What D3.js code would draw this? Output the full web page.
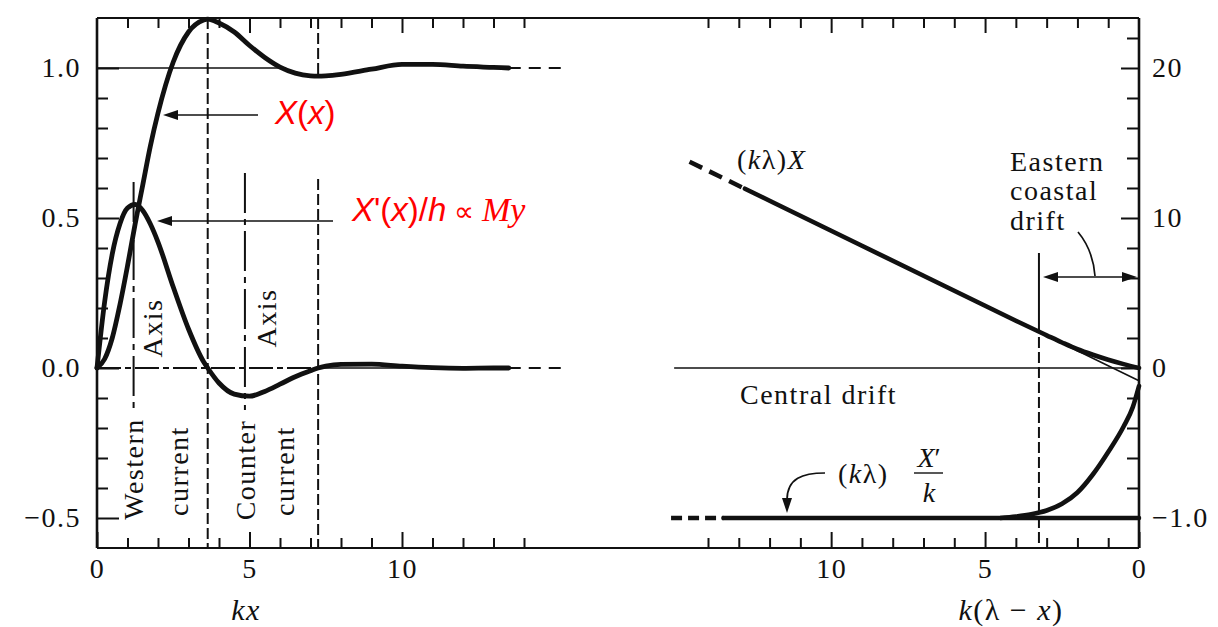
<!DOCTYPE html>
<html><head><meta charset="utf-8">
<script src="https://cdn.jsdelivr.net/npm/d3@7"></script>
<style>
body{margin:0;background:#fff;}
svg{display:block;background:#fff;}
text{font-family:"Liberation Serif","Times New Roman",serif;fill:#111;}
</style></head><body>
<svg id="c" width="1218" height="627"></svg>
<script>
// ---------- data ----------
// Left panel: western boundary solution vs kx
const kxGrid = [0,0.25,0.5,0.75,1,1.25,1.5,1.75,2,2.5,3,3.5,3.63,4,4.5,5,5.5,6,6.5,7,7.25,7.5,8,9,10,11,12,13,13.5];
const Xvals  = [0,0.03,0.10,0.21,0.34,0.48,0.61,0.74,0.85,1.02,1.12,1.16,1.163,1.15,1.12,1.075,1.035,1.003,0.983,0.974,0.973,0.974,0.979,0.996,1.012,1.012,1.006,1.002,1.0];
const XpVals = [0,0.22,0.38,0.48,0.533,0.545,0.525,0.48,0.42,0.27,0.13,0.02,0,-0.05,-0.087,-0.094,-0.078,-0.054,-0.029,-0.009,0,0.006,0.012,0.013,0.006,0.001,-0.001,0,0];
const kxTail = [13.5, 15.3];
const XTail  = [1.0, 1.0];
const XpTail = [0, 0];

// Right panel: eastern side vs k(lambda - x)
const sX      = [14.6,12.8,11,9,7,5,4,3,2.5,2,1.5,1,0.5,0];
const kXvals  = [13.75,11.95,10.15,8.15,6.15,4.15,3.15,2.18,1.7,1.25,0.88,0.55,0.26,0];
const sInterior   = [4, 0];
const interiorVal = [3.15, -0.85];
const sXp     = [4.5,4,3.5,3,2.5,2,1.5,1,0.5,0.2,0];
const kXpVals = [-1,-0.99,-0.975,-0.95,-0.905,-0.83,-0.71,-0.56,-0.39,-0.26,-0.12];
const sFlat   = [13.5, 0];
const flatVal = [-1, -1];
const sFlatTail = [15.2, 13.5];

// Ticks
const xMinorTicks = [1,2,3,4,6,7,8,9,11,12,13,14];
const xMajorTicks = [0,5,10];
const leftMinor = [-0.4,-0.3,-0.2,-0.1,0.1,0.2,0.3,0.4,0.6,0.7,0.8,0.9];
const leftMajor = [-0.5,0,0.5,1.0];
const rightUpperMinor = [2,4,6,8,12,14,16,18,22];
const rightUpperMajor = [0,10,20];
const rightLowerMinor = [-0.2,-0.4,-0.6,-0.8];
const rightLowerMajor = [-1.0];

// Marker positions (data units)
const westernAxisKx = 1.2, counterAxisKx = 4.85, peakKx = 3.63, troughKx = 7.25, eastEdgeS = 3.25;

// ---------- scales ----------
const svg = d3.select("#c");
const xL = d3.scaleLinear().domain([0,14]).range([97,524]);
const xR = d3.scaleLinear().domain([0,14]).range([1139,708]);
const yL = d3.scaleLinear().domain([-0.6,1.1667]).range([548,18]);
const yR1 = d3.scaleLinear().domain([-12,23.333]).range([548,18]);
const yR2 = d3.scaleLinear().domain([-1.2,2.3333]).range([548,18]);
const L = 97, R = 1139, T = 18, B = 548;

const ink = "#111";
function styleAxis(g){
  g.select(".domain").remove();
  g.selectAll(".tick line").attr("stroke", ink).attr("stroke-width", 2);
  g.attr("font-family", "Liberation Serif").attr("font-size", 28);
  g.selectAll("text").attr("fill", ink).style("letter-spacing","1.5px");
}

// ---------- axes ----------
svg.append("g").attr("transform",`translate(${L},0)`)
  .call(d3.axisLeft(yL).tickValues(leftMinor).tickSize(-11).tickFormat("")).call(styleAxis);
svg.append("g").attr("transform",`translate(${L},0)`)
  .call(d3.axisLeft(yL).tickValues(leftMajor).tickSize(-22).tickPadding(16).tickFormat(d3.format(".1f"))).call(styleAxis);
svg.append("g").attr("transform",`translate(${R},0)`)
  .call(d3.axisRight(yR1).tickValues(rightUpperMinor).tickSize(-12).tickFormat("")).call(styleAxis);
svg.append("g").attr("transform",`translate(${R},0)`)
  .call(d3.axisRight(yR1).tickValues(rightUpperMajor).tickSize(-18).tickPadding(13).tickFormat(d3.format("d"))).call(styleAxis);
svg.append("g").attr("transform",`translate(${R},0)`)
  .call(d3.axisRight(yR2).tickValues(rightLowerMinor).tickSize(-12).tickFormat("")).call(styleAxis);
svg.append("g").attr("transform",`translate(${R},0)`)
  .call(d3.axisRight(yR2).tickValues(rightLowerMajor).tickSize(-12).tickPadding(13).tickFormat(d3.format(".1f"))).call(styleAxis);
[xL, xR].forEach(sc => {
  svg.append("g").attr("transform",`translate(0,${B})`)
    .call(d3.axisBottom(sc).tickValues(xMinorTicks).tickSize(-10).tickFormat("")).call(styleAxis);
  svg.append("g").attr("transform",`translate(0,${B})`)
    .call(d3.axisBottom(sc).tickValues(xMajorTicks).tickSize(-16).tickPadding(10).tickFormat(d3.format("d"))).call(styleAxis);
  svg.append("g").attr("transform",`translate(0,${T})`)
    .call(d3.axisTop(sc).tickValues(xMinorTicks).tickSize(-10).tickFormat("")).call(styleAxis);
  svg.append("g").attr("transform",`translate(0,${T})`)
    .call(d3.axisTop(sc).tickValues(xMajorTicks.filter(d=>d>0)).tickSize(-15).tickFormat("")).call(styleAxis);
});

// frame
const fr = svg.append("g").attr("stroke", ink);
fr.append("line").attr("x1",L).attr("x2",L).attr("y1",T).attr("y2",B).attr("stroke-width",2.6);
fr.append("line").attr("x1",R).attr("x2",R).attr("y1",T).attr("y2",B).attr("stroke-width",2.6);
fr.append("line").attr("x1",L).attr("x2",R).attr("y1",T).attr("y2",T).attr("stroke-width",2.2);
fr.append("line").attr("x1",L).attr("x2",R).attr("y1",B).attr("y2",B).attr("stroke-width",2.2);

// ---------- reference lines ----------
const ref = svg.append("g").attr("stroke", ink).attr("fill","none");
ref.append("line").attr("x1",xL(0)).attr("x2",xL(6.2)).attr("y1",yL(1)).attr("y2",yL(1)).attr("stroke-width",1.7);
ref.append("line").attr("x1",xL(0)).attr("x2",xL(troughKx)).attr("y1",yL(0)).attr("y2",yL(0))
  .attr("stroke-width",1.8).attr("stroke-dasharray","24,4,6,4");
ref.append("line").attr("x1",xL(troughKx)).attr("x2",xL(13.4)).attr("y1",yL(0)).attr("y2",yL(0)).attr("stroke-width",1.5);
ref.append("line").attr("x1",xR(15.1)).attr("x2",R).attr("y1",yR1(0)).attr("y2",yR1(0)).attr("stroke-width",1.7);

ref.append("line").attr("x1",xL(peakKx)).attr("x2",xL(peakKx)).attr("y1",T).attr("y2",B)
  .attr("stroke-width",2).attr("stroke-dasharray","11,4");
ref.append("line").attr("x1",xL(troughKx)).attr("x2",xL(troughKx)).attr("y1",T).attr("y2",yL(0.98))
  .attr("stroke-width",2).attr("stroke-dasharray","11,4");
ref.append("line").attr("x1",xL(troughKx)).attr("x2",xL(troughKx)).attr("y1",yL(0.63)).attr("y2",B)
  .attr("stroke-width",2).attr("stroke-dasharray","11,4");
[westernAxisKx, counterAxisKx].forEach((k,i) => {
  ref.append("line").attr("x1",xL(k)).attr("x2",xL(k)).attr("y1",yL(i?0.65:0.62)).attr("y2",yL(-0.14))
    .attr("stroke-width",2).attr("stroke-dasharray","40,6,6,6");
});
ref.append("line").attr("x1",xR(eastEdgeS)).attr("x2",xR(eastEdgeS)).attr("y1",253).attr("y2",322).attr("stroke-width",2);
ref.append("line").attr("x1",xR(eastEdgeS)).attr("x2",xR(eastEdgeS)).attr("y1",322).attr("y2",B)
  .attr("stroke-width",2).attr("stroke-dasharray","11,4");

// ---------- curves ----------
const lineL = (ys) => d3.line().x(d=>xL(d)).y((d,i)=>yL(ys[i])).curve(d3.curveMonotoneX);
const cv = svg.append("g").attr("fill","none").attr("stroke",ink).attr("stroke-linecap","round");
cv.append("path").attr("d", lineL(Xvals)(kxGrid)).attr("stroke-width",4.8);
cv.append("path").attr("d", lineL(XpVals)(kxGrid)).attr("stroke-width",4.8);
cv.append("path").attr("d", lineL(XTail)(kxTail)).attr("stroke-width",2).attr("stroke-dasharray","12,8").attr("stroke-linecap","butt");
cv.append("path").attr("d", lineL(XpTail)(kxTail)).attr("stroke-width",2).attr("stroke-dasharray","12,8").attr("stroke-linecap","butt");

const lineR = (sc, ys) => d3.line().x(d=>xR(d)).y((d,i)=>sc(ys[i])).curve(d3.curveMonotoneX);
cv.append("path").attr("d", lineR(yR1, kXvals.slice(0,2))(sX.slice(0,2))).attr("stroke-width",4.5).attr("stroke-dasharray","14,8").attr("stroke-linecap","butt");
cv.append("path").attr("d", lineR(yR1, kXvals.slice(1))(sX.slice(1))).attr("stroke-width",4.6);
cv.append("path").attr("d", lineR(yR1, interiorVal)(sInterior)).attr("stroke-width",1.5);
cv.append("path").attr("d", lineR(yR2, flatVal)(sFlatTail)).attr("stroke-width",4.5).attr("stroke-dasharray","11,6").attr("stroke-linecap","butt");
cv.append("path").attr("d", lineR(yR2, flatVal)(sFlat)).attr("stroke-width",4.5);
cv.append("path").attr("d", lineR(yR2, kXpVals)(sXp)).attr("stroke-width",4.6);

// ---------- arrows ----------
const an = svg.append("g").attr("stroke",ink).attr("fill","none").attr("stroke-width",1.7);
function headLeft(x,y){ svg.append("path").attr("d",`M${x},${y} L${x+15},${y-5} L${x+15},${y+5} Z`).attr("fill",ink); }
function headRight(x,y){ svg.append("path").attr("d",`M${x},${y} L${x-15},${y-5} L${x-15},${y+5} Z`).attr("fill",ink); }
function headDown(x,y){ svg.append("path").attr("d",`M${x},${y} L${x-5},${y-15} L${x+5},${y-15} Z`).attr("fill",ink); }
an.append("line").attr("x1",258).attr("x2",170).attr("y1",115).attr("y2",115); headLeft(163,115);
an.append("line").attr("x1",333).attr("x2",165).attr("y1",221).attr("y2",221); headLeft(157,221);
an.append("line").attr("x1",1050).attr("x2",1130).attr("y1",277).attr("y2",277); headLeft(1043,277); headRight(1137,277);
an.append("path").attr("d","M1078,232 Q1093,250 1095,276");
an.append("path").attr("d","M825,473 C803,473 787,478 787,500"); headDown(787,513);

// ---------- text ----------
function txt(x,y,s,opt){
  opt = opt||{};
  const t = svg.append("text").attr("x",x).attr("y",y).attr("font-size",opt.fs||28)
    .attr("text-anchor",opt.anchor||"start").style("letter-spacing",(opt.ls!=null?opt.ls:1.5)+"px");
  if(opt.rot) t.attr("transform",`rotate(-90,${x},${y})`).attr("dy","0.35em");
  if(typeof s === "string") t.text(s);
  else s.forEach(p => { const sp = t.append("tspan").text(p[0]); if(p[1]) sp.attr("font-style","italic"); if(p[2]) sp.attr("font-family",p[2]); if(p[3]) sp.attr("fill",p[3]); if(p[4]) sp.attr("font-size",p[4]); });
  return t;
}
txt(152,328,"Axis",{anchor:"middle",rot:true});
txt(266,318,"Axis",{anchor:"middle",rot:true});
txt(133,469,"Western",{anchor:"middle",rot:true});
txt(178,471,"current",{anchor:"middle",rot:true});
txt(245,470,"Counter",{anchor:"middle",rot:true});
txt(284,471,"current",{anchor:"middle",rot:true});

const red = "#ff0000", sans = "Liberation Sans";
txt(275,124,[["X",1,sans,red],["(",0,sans,red],["x",1,sans,red],[")",0,sans,red]],{fs:33,ls:0});
txt(352,221,[["X",1,sans,red],["'(",0,sans,red],["x",1,sans,red],[")/",0,sans,red],["h",1,sans,red],[" \u221D ",0,sans,red,28],["My",1,"Liberation Serif",red,34]],{fs:33,ls:0});

txt(737,169,[["(",0],["k",1],["\u03BB)",0],["X",1]]);
txt(1010,171,"Eastern");
txt(1010,200,"coastal");
txt(1010,230,"drift");
txt(740,404,"Central drift");
txt(838,483,[["(",0],["k",1],["\u03BB)",0]]);
txt(929,467,[["X",1],["\u2032",0]],{anchor:"middle",ls:0});
svg.append("line").attr("x1",914).attr("x2",943).attr("y1",473).attr("y2",473).attr("stroke",ink).attr("stroke-width",1.4);
txt(929,502,[["k",1]],{anchor:"middle",ls:0});

txt(246,620,[["kx",1]],{fs:30,anchor:"middle"});
txt(1011,620,[["k",1],["(\u03BB \u2212 ",0],["x",1],[")",0]],{fs:30,anchor:"middle"});
</script>
</body></html>
